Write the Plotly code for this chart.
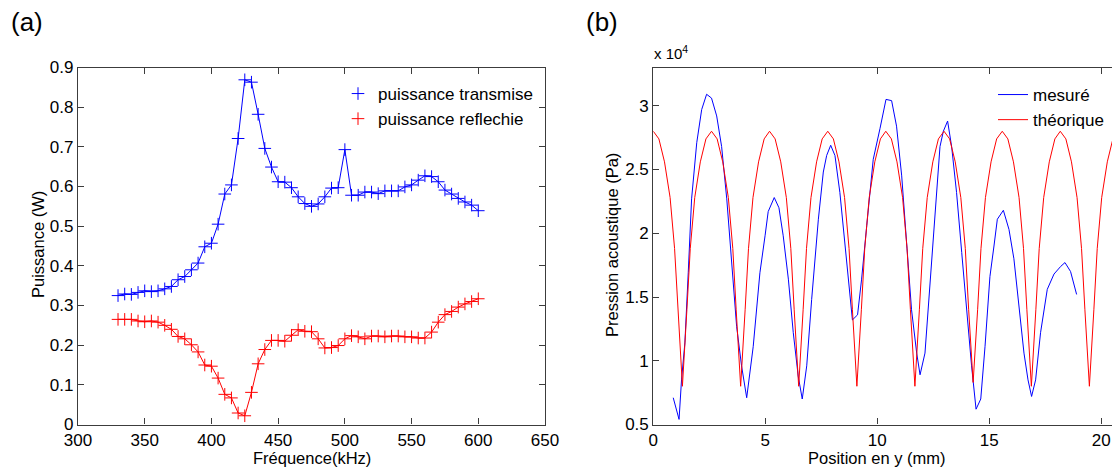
import plotly.graph_objects as go

# ---------------- Panel (a) data ----------------
frequence_khz = [330, 335, 340, 345, 350, 355, 360, 365, 370, 375, 380, 385, 390, 395, 400,
                 405, 410, 415, 420, 425, 430, 435, 440, 445, 450, 455, 460, 465, 470, 475,
                 480, 485, 490, 495, 500, 505, 510, 515, 520, 525, 530, 535, 540, 545, 550,
                 555, 560, 565, 570, 575, 580, 585, 590, 595, 600]

puissance_transmise = [0.325, 0.329, 0.328, 0.333, 0.337, 0.335, 0.337, 0.342, 0.348, 0.365,
                       0.373, 0.390, 0.407, 0.448, 0.457, 0.505, 0.581, 0.604, 0.721, 0.869,
                       0.863, 0.782, 0.696, 0.649, 0.612, 0.611, 0.597, 0.574, 0.557, 0.550,
                       0.556, 0.574, 0.596, 0.597, 0.693, 0.578, 0.578, 0.586, 0.586, 0.582,
                       0.589, 0.589, 0.589, 0.599, 0.604, 0.616, 0.627, 0.625, 0.612, 0.591,
                       0.581, 0.570, 0.561, 0.553, 0.539]

puissance_reflechie = [0.265, 0.265, 0.265, 0.261, 0.259, 0.261, 0.258, 0.250, 0.240, 0.222,
                       0.216, 0.201, 0.183, 0.150, 0.147, 0.117, 0.076, 0.067, 0.029, 0.022,
                       0.081, 0.153, 0.189, 0.212, 0.212, 0.210, 0.225, 0.239, 0.235, 0.234,
                       0.216, 0.193, 0.194, 0.199, 0.216, 0.224, 0.221, 0.216, 0.223, 0.223,
                       0.221, 0.223, 0.223, 0.221, 0.221, 0.218, 0.218, 0.233, 0.258, 0.277,
                       0.285, 0.296, 0.304, 0.310, 0.317]

# ---------------- Panel (b) data (pressure in units of 1e4 Pa) ----------------
position_mesure_mm = [0.89, 1.15, 1.26, 1.41, 1.56, 1.71, 1.94, 2.16, 2.38, 2.60, 2.83, 3.05,
                      3.28, 3.50, 3.72, 3.94, 4.17, 4.46, 4.76, 4.99, 5.13, 5.40, 5.61, 5.80,
                      6.03, 6.25, 6.47, 6.65, 6.85, 7.07, 7.37, 7.59, 7.74, 7.92, 8.11, 8.33,
                      8.56, 8.71, 8.89, 9.12, 9.30, 9.53, 9.82, 10.12, 10.39, 10.64, 10.86,
                      11.09, 11.31, 11.53, 11.76, 11.91, 12.13, 12.35, 12.58, 12.80, 12.95,
                      13.14, 13.32, 13.54, 13.77, 13.99, 14.21, 14.41, 14.62, 14.81, 15.03,
                      15.21, 15.36, 15.63, 15.88, 16.10, 16.32, 16.55, 16.73, 16.89, 17.07,
                      17.29, 17.59, 17.89, 18.19, 18.38, 18.63, 18.90]

pression_mesuree = [0.71, 0.54, 0.85, 1.14, 1.69, 2.27, 2.71, 2.97, 3.09, 3.06, 2.92, 2.68,
                    2.27, 1.74, 1.27, 0.96, 0.71, 1.11, 1.69, 1.98, 2.17, 2.28, 2.20, 1.98,
                    1.64, 1.22, 0.88, 0.70, 0.96, 1.48, 2.11, 2.48, 2.61, 2.69, 2.61, 2.32,
                    1.90, 1.59, 1.32, 1.36, 1.64, 2.06, 2.58, 2.82, 3.05, 3.04, 2.84,
                    2.45, 1.90, 1.40, 1.06, 0.89, 1.06, 1.59, 2.19, 2.68, 2.80,
                    2.88, 2.68, 2.32, 1.85, 1.38, 0.96, 0.62, 0.70, 1.11, 1.66,
                    1.90, 2.11, 2.18, 2.03, 1.80, 1.43, 1.06, 0.85, 0.72, 0.85,
                    1.22, 1.56, 1.68, 1.74, 1.77, 1.70, 1.52]

position_theorique_mm = [
    0.00, 0.25, 0.50, 0.75, 0.95, 1.10, 1.30, 1.50, 1.65, 1.85, 2.10, 2.35,
    2.60, 2.85, 3.10, 3.35, 3.55, 3.70, 3.90, 4.10, 4.25, 4.45, 4.70, 4.95,
    5.19, 5.44, 5.69, 5.94, 6.14, 6.29, 6.49, 6.69, 6.84, 7.04, 7.29, 7.54,
    7.79, 8.04, 8.29, 8.54, 8.74, 8.89, 9.09, 9.29, 9.44, 9.64, 9.89, 10.14,
    10.38, 10.63, 10.88, 11.13, 11.33, 11.48, 11.68, 11.88, 12.03, 12.23, 12.48, 12.73,
    12.98, 13.23, 13.48, 13.73, 13.93, 14.08, 14.28, 14.48, 14.63, 14.83, 15.08, 15.33,
    15.58, 15.83, 16.08, 16.33, 16.53, 16.68, 16.88, 17.08, 17.23, 17.43, 17.68, 17.93,
    18.17, 18.42, 18.67, 18.92, 19.12, 19.27, 19.47, 19.67, 19.82, 20.02, 20.27, 20.52,
    20.77]

pression_theorique = [
    2.80, 2.74, 2.56, 2.28, 1.88, 1.40, 0.80, 1.40, 1.88, 2.28, 2.56, 2.74,
    2.80, 2.74, 2.56, 2.28, 1.88, 1.40, 0.80, 1.40, 1.88, 2.28, 2.56, 2.74,
    2.80, 2.74, 2.56, 2.28, 1.88, 1.40, 0.80, 1.40, 1.88, 2.28, 2.56, 2.74,
    2.80, 2.74, 2.56, 2.28, 1.88, 1.40, 0.80, 1.40, 1.88, 2.28, 2.56, 2.74,
    2.80, 2.74, 2.56, 2.28, 1.88, 1.40, 0.80, 1.40, 1.88, 2.28, 2.56, 2.74,
    2.80, 2.74, 2.56, 2.28, 1.88, 1.40, 0.83, 1.40, 1.88, 2.28, 2.56, 2.74,
    2.80, 2.74, 2.56, 2.28, 1.88, 1.40, 0.80, 1.40, 1.88, 2.28, 2.56, 2.74,
    2.80, 2.74, 2.56, 2.28, 1.88, 1.40, 0.80, 1.40, 1.88, 2.28, 2.56, 2.74,
    2.80]

W, H = 1112, 472
FONT = "Liberation Sans"
BLUE = "#0000ff"
RED = "#ff0000"
AXC = "#3c3c3c"


def px(x):
    return x / W


def py(y):
    return 1 - y / H


fig = go.Figure()

# Panel (a)
fig.add_trace(go.Scatter(x=frequence_khz, y=puissance_transmise, mode="lines+markers",
                         line=dict(color=BLUE, width=1),
                         marker=dict(symbol="cross-thin", size=9, line=dict(color=BLUE, width=1)),
                         xaxis="x", yaxis="y", showlegend=False))
fig.add_trace(go.Scatter(x=frequence_khz, y=puissance_reflechie, mode="lines+markers",
                         line=dict(color=RED, width=1),
                         marker=dict(symbol="cross-thin", size=9, line=dict(color=RED, width=1)),
                         xaxis="x", yaxis="y", showlegend=False))
# legend entries (marker only, as in the original)
fig.add_trace(go.Scatter(x=[None], y=[None], mode="markers", name="puissance transmise",
                         marker=dict(symbol="cross-thin", size=9, line=dict(color=BLUE, width=1)),
                         xaxis="x", yaxis="y", legend="legend"))
fig.add_trace(go.Scatter(x=[None], y=[None], mode="markers", name="puissance reflechie",
                         marker=dict(symbol="cross-thin", size=9, line=dict(color=RED, width=1)),
                         xaxis="x", yaxis="y", legend="legend"))

# Panel (b)
fig.add_trace(go.Scatter(x=position_mesure_mm, y=pression_mesuree, mode="lines", name="mesuré",
                         line=dict(color=BLUE, width=1), xaxis="x2", yaxis="y2", legend="legend2"))
fig.add_trace(go.Scatter(x=position_theorique_mm, y=pression_theorique, mode="lines", name="théorique",
                         line=dict(color=RED, width=1), xaxis="x2", yaxis="y2", legend="legend2"))

ydom = [py(424.5), py(67.5)]
common_ax = dict(showgrid=False, zeroline=False, showline=True, linecolor=AXC, linewidth=1.2,
                 ticks="inside", ticklen=6, tickwidth=1, tickcolor=AXC,
                 tickfont=dict(family=FONT, size=17, color="black"), automargin=False)

fig.update_layout(
    width=W, height=H,
    margin=dict(l=0, r=0, t=0, b=0),
    paper_bgcolor="white", plot_bgcolor="white",
    font=dict(family=FONT, color="black"),
    xaxis=dict(domain=[px(78), px(545)], range=[300, 650], tickmode="linear", tick0=300, dtick=50,
               mirror="ticks", anchor="y", **common_ax),
    yaxis=dict(domain=ydom, range=[0, 0.9], tickmode="linear", tick0=0, dtick=0.1,
               mirror="ticks", anchor="x", **common_ax),
    xaxis2=dict(domain=[px(653.3), 1.0], range=[0, 20.48], tickmode="linear", tick0=0, dtick=5,
                mirror="ticks", anchor="y2", **common_ax),
    yaxis2=dict(domain=ydom, range=[0.5, 3.3], tickmode="linear", tick0=0.5, dtick=0.5,
                mirror=False, anchor="x2", **common_ax),
    legend=dict(x=px(338), y=py(76), xanchor="left", yanchor="top", bgcolor="rgba(0,0,0,0)",
                borderwidth=0, font=dict(family=FONT, size=17, color="black"), tracegroupgap=0),
    legend2=dict(x=px(993), y=py(77), xanchor="left", yanchor="top", bgcolor="rgba(0,0,0,0)",
                 borderwidth=0, font=dict(family=FONT, size=17, color="black"), tracegroupgap=0),
)

annots = [
    dict(text="Fréquence(kHz)", x=px(312), y=py(458), size=16.5, angle=0),
    dict(text="Puissance (W)", x=px(38), y=py(245), size=16.5, angle=-90),
    dict(text="Position en y (mm)", x=px(877), y=py(458), size=16.5, angle=0),
    dict(text="Pression acoustique (Pa)", x=px(612), y=py(245), size=16.5, angle=-90),
    dict(text="(a)", x=px(27), y=py(22), size=26, angle=0),
    dict(text="(b)", x=px(602), y=py(22), size=26, angle=0),
]
for a in annots:
    fig.add_annotation(text=a["text"], x=a["x"], y=a["y"], xref="paper", yref="paper",
                       xanchor="center", yanchor="middle", showarrow=False, textangle=a["angle"],
                       font=dict(family=FONT, size=a["size"], color="black"))

fig.add_annotation(text="x 10<sup>4</sup>", x=px(652), y=py(64), xref="paper", yref="paper",
                   xanchor="left", yanchor="bottom", showarrow=False,
                   font=dict(family=FONT, size=15, color="black"))

fig.write_html("out.html", config={"displayModeBar": False},
               post_script="document.body.style.margin='0';document.body.style.overflow='hidden';")
